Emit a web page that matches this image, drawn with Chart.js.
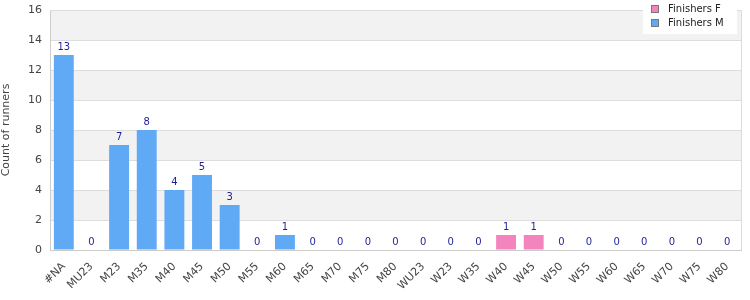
<!DOCTYPE html>
<html>
<head>
<meta charset="utf-8">
<script src="https://cdn.jsdelivr.net/npm/chart.js@4"></script>
<style>
  html, body { margin: 0; padding: 0; background: #fff; }
  #wrap { width: 750px; height: 300px; position: relative; }
</style>
</head>
<body>
<div id="wrap"><canvas id="chart"></canvas></div>
<script>
const categories = ['#NA', 'MU23', 'M23', 'M35', 'M40', 'M45', 'M50', 'M55', 'M60', 'M65', 'M70', 'M75', 'M80',
  'WU23', 'W23', 'W35', 'W40', 'W45', 'W50', 'W55', 'W60', 'W65', 'W70', 'W75', 'W80'];
// null = category belongs to the other series
const finishersF = [null, null, null, null, null, null, null, null, null, null, null, null, null,
  0, 0, 0, 1, 1, 0, 0, 0, 0, 0, 0, 0];
const finishersM = [13, 0, 7, 8, 4, 5, 3, 0, 1, 0, 0, 0, 0,
  null, null, null, null, null, null, null, null, null, null, null, null];
const yTicks = [0, 2, 4, 6, 8, 10, 12, 14, 16];

const FONT = '"DejaVu Sans", Verdana, sans-serif';

// grey bands every other grid interval + frame
const bandsPlugin = {
  id: 'bands',
  beforeDraw(chart) {
    const {ctx, chartArea: a, scales: {y}} = chart;
    ctx.save();
    ctx.fillStyle = '#f2f2f2';
    for (let i = 1; i < yTicks.length - 1; i += 2) {
      const top = y.getPixelForValue(yTicks[i + 1]);
      const bot = y.getPixelForValue(yTicks[i]);
      ctx.fillRect(a.left, top, a.right - a.left, bot - top);
    }
    ctx.restore();
  },
  afterDraw(chart) {
    const {ctx, chartArea: a} = chart;
    ctx.save();
    ctx.strokeStyle = '#dcdcdc';
    ctx.lineWidth = 1;
    ctx.beginPath();
    ctx.moveTo(a.left, a.top + 0.5);
    ctx.lineTo(a.right + 0.5, a.top + 0.5);
    ctx.lineTo(a.right + 0.5, a.bottom);
    ctx.stroke();
    ctx.restore();
  }
};

// value labels above bars
const valueLabels = {
  id: 'valueLabels',
  afterDatasetsDraw(chart) {
    const ctx = chart.ctx;
    ctx.save();
    ctx.font = '10px ' + FONT;
    ctx.fillStyle = '#1f1f99';
    ctx.textAlign = 'center';
    ctx.textBaseline = 'bottom';
    chart.data.datasets.forEach((ds, i) => {
      chart.getDatasetMeta(i).data.forEach((bar, j) => {
        if (ds.data[j] === null) return;
        ctx.fillText(ds.data[j], bar.x, bar.y - 3);
      });
    });
    ctx.restore();
  }
};

// legend box floating top right
const boxLegend = {
  id: 'boxLegend',
  afterDraw(chart) {
    const ctx = chart.ctx;
    ctx.save();
    ctx.fillStyle = '#fff';
    ctx.fillRect(643, 0, 94, 34);
    ctx.font = '10px ' + FONT;
    ctx.textBaseline = 'middle';
    chart.data.datasets.forEach((ds, i) => {
      const cy = 9 + i * 14;
      ctx.fillStyle = ds.backgroundColor;
      ctx.fillRect(651.5, cy - 3.5, 7, 7);
      ctx.strokeStyle = '#777';
      ctx.strokeRect(651.5, cy - 3.5, 7, 7);
      ctx.fillStyle = '#222';
      ctx.fillText(ds.label, 668, cy);
    });
    ctx.restore();
  }
};

let config = {
  type: 'bar',
  data: {
    labels: categories,
    datasets: [
      {label: 'Finishers F', data: finishersF, backgroundColor: '#f384be'},
      {label: 'Finishers M', data: finishersM, backgroundColor: '#60a9f5'}
    ]
  },
  options: {
    responsive: false,
    animation: false,
    layout: {padding: {top: 10, right: 9, left: 0, bottom: 0}},
    plugins: {
      legend: {display: false},
      tooltip: {enabled: false}
    },
    datasets: {
      bar: {categoryPercentage: 1, barPercentage: 0.72}
    },
    scales: {
      x: {
        stacked: true,
        grid: {display: false},
        border: {color: '#cccccc'},
        ticks: {
          color: '#444',
          font: {family: FONT, size: 11},
          minRotation: 45,
          maxRotation: 45,
          autoSkip: false,
          padding: 2
        },
        afterFit(scale) {
          scale.height = 50;
          scale.paddingLeft = 0;
          scale.paddingRight = 0;
        }
      },
      y: {
        stacked: true,
        min: 0,
        max: 16,
        grid: {color: '#dddddd', drawTicks: false},
        border: {color: '#cccccc'},
        ticks: {
          stepSize: 2,
          color: '#444',
          font: {family: FONT, size: 11},
          padding: 8
        },
        title: {
          display: true,
          text: 'Count of runners',
          color: '#444',
          font: {family: FONT, size: 11},
          padding: 0
        },
        afterFit(scale) {
          scale.width = 50;
          scale.paddingTop = 0;
          scale.paddingBottom = 0;
        }
      }
    }
  },
  plugins: [bandsPlugin, valueLabels, boxLegend]
};

const canvas = document.getElementById('chart');
canvas.width = 750;
canvas.height = 300;
window.runnersChart = new Chart(canvas.getContext('2d'), config);
</script>
</body>
</html>
